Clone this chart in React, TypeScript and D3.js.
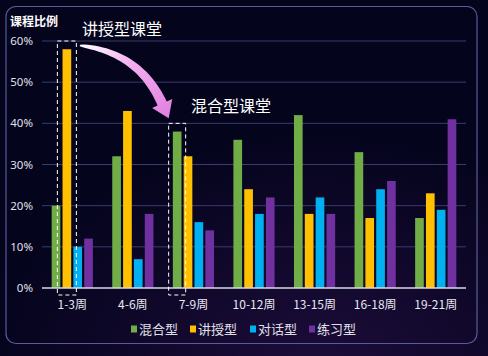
import { useMemo } from "react";
import * as d3 from "d3";

const WIDTH = 488;
const HEIGHT = 356;

const categories = ["1-3周", "4-6周", "7-9周", "10-12周", "13-15周", "16-18周", "19-21周"];
const seriesNames = ["混合型", "讲授型", "对话型", "练习型"];
const seriesColors = ["#70ad47", "#ffc000", "#00b0f0", "#7030a0"];
const mixed = [20, 32, 38, 36, 42, 33, 17];
const lecture = [58, 43, 32, 24, 18, 17, 23];
const dialog = [10, 7, 16, 18, 22, 24, 19];
const practice = [12, 18, 14, 22, 18, 26, 41];
const yTicks = [0, 10, 20, 30, 40, 50, 60];

const margin = { top: 41, right: 22, bottom: 68, left: 42 };

export default function App() {
  const series = [mixed, lecture, dialog, practice];

  const x = useMemo(
    () => d3.scaleBand().domain(categories).range([margin.left, WIDTH - margin.right]).paddingInner(0.32).paddingOuter(0.16),
    []
  );
  const inner = useMemo(
    () => d3.scaleBand().domain(seriesNames).range([0, x.bandwidth()]).paddingInner(0.2),
    [x]
  );
  const y = useMemo(
    () => d3.scaleLinear().domain([0, 60]).range([HEIGHT - margin.bottom, margin.top]),
    []
  );

  // highlight boxes
  const box1x = (x(categories[0]) ?? 0) + (inner(seriesNames[1]) ?? 0) + inner.bandwidth() / 2;
  const box2x = (x(categories[2]) ?? 0) + (inner(seriesNames[0]) ?? 0) + inner.bandwidth() / 2;

  // curved arrow from box 1 to box 2
  const p0: [number, number] = [box1x + 13, y(58.9)];
  const c: [number, number] = [box2x - 38, y(57.3)];
  const p1: [number, number] = [box2x - 15, y(44.8)];
  const dir = [p1[0] - c[0], p1[1] - c[1]];
  const len = Math.hypot(dir[0], dir[1]);
  const ux = dir[0] / len, uy = dir[1] / len;
  const nx = -uy, ny = ux;
  const N = 30;
  const left: [number, number][] = [];
  const right: [number, number][] = [];
  for (let i = 0; i <= N; i++) {
    const t = i / N;
    const bx = (1 - t) * (1 - t) * p0[0] + 2 * (1 - t) * t * c[0] + t * t * p1[0];
    const by = (1 - t) * (1 - t) * p0[1] + 2 * (1 - t) * t * c[1] + t * t * p1[1];
    const dx = 2 * (1 - t) * (c[0] - p0[0]) + 2 * t * (p1[0] - c[0]);
    const dy = 2 * (1 - t) * (c[1] - p0[1]) + 2 * t * (p1[1] - c[1]);
    const l = Math.hypot(dx, dy);
    const w = 0.8 + 4.2 * Math.sqrt(t);
    left.push([bx - (dy / l) * w, by + (dx / l) * w]);
    right.push([bx + (dy / l) * w, by - (dx / l) * w]);
  }
  const headW = 11;
  const tip: [number, number] = [p1[0] + ux * 16, p1[1] + uy * 16];
  const shape: [number, number][] = [
    ...left,
    [p1[0] + nx * headW, p1[1] + ny * headW],
    tip,
    [p1[0] - nx * headW, p1[1] - ny * headW],
    ...right.reverse(),
  ];
  const arrowPath = d3.line()(shape) + "Z";

  const legendItems = [131, 190, 250, 309];

  return (
    <svg width={WIDTH} height={HEIGHT} style={{ position: "absolute", left: 0, top: 0 }}>
      <defs>
        <radialGradient id="bg" cx="0.65" cy="1.05" r="0.7">
          <stop offset="0%" stopColor="#1d0c3a" />
          <stop offset="100%" stopColor="#04041c" />
        </radialGradient>
        <linearGradient id="arrowGrad" x1="0" y1="0" x2="1" y2="1">
          <stop offset="0%" stopColor="#ffffff" />
          <stop offset="40%" stopColor="#f4b0f0" />
          <stop offset="100%" stopColor="#e07ee0" />
        </linearGradient>
      </defs>
      <rect width={WIDTH} height={HEIGHT} fill="url(#bg)" />
      <rect x={6} y={6.5} width={471} height={337} rx={10} fill="none" stroke="#5a5c99" strokeWidth={1.2} />

      <text x={10} y={26} fill="#ffffff" fontSize={12} fontWeight="bold" fontFamily="Noto Sans CJK SC">
        课程比例
      </text>

      {yTicks.map((t) => (
        <g key={t}>
          {t > 0 && (
            <line x1={margin.left} x2={WIDTH - margin.right} y1={y(t)} y2={y(t)} stroke="#3b3b6e" strokeWidth={1} />
          )}
          <text x={33} y={y(t)} dy="0.35em" textAnchor="end" fill="#e0e0e8" fontSize={11.5} fontFamily="Noto Sans">
            {t}%
          </text>
        </g>
      ))}

      {categories.map((cat, ci) => (
        <g key={cat} transform={`translate(${x(cat)},0)`}>
          {series.map((s, si) => (
            <rect
              key={si}
              x={inner(seriesNames[si])}
              width={inner.bandwidth()}
              y={y(s[ci])}
              height={y(0) - y(s[ci])}
              fill={seriesColors[si]}
            />
          ))}
          <text
            x={x.bandwidth() / 2}
            y={y(0) + 17}
            dy="0.35em"
            textAnchor="middle"
            fill="#e8e8f0"
            fontSize={12}
            fontFamily="Noto Sans CJK SC"
          >
            {cat}
          </text>
        </g>
      ))}

      <line x1={margin.left} x2={WIDTH - margin.right} y1={y(0)} y2={y(0)} stroke="#d8d8e6" strokeWidth={1.5} />

      <rect x={box1x - 9.5} y={y(60)} width={19} height={y(0) - y(60) + 7} fill="none" stroke="#ffffff" strokeDasharray="4,3" strokeWidth={1} />
      <rect x={box2x - 8.5} y={y(40)} width={17} height={y(0) - y(40) + 7} fill="none" stroke="#ffffff" strokeDasharray="4,3" strokeWidth={1} />

      <path d={arrowPath} fill="url(#arrowGrad)" />

      <text x={82} y={35} fill="#ffffff" fontSize={16} fontFamily="Noto Sans CJK SC">
        讲授型课堂
      </text>
      <text x={191} y={112} fill="#ffffff" fontSize={16} fontFamily="Noto Sans CJK SC">
        混合型课堂
      </text>

      {seriesNames.map((name, i) => (
        <g key={name} transform={`translate(${legendItems[i]},329)`}>
          <rect x={0} y={-3.5} width={6} height={7} fill={seriesColors[i]} />
          <text x={8} y={0} dy="0.35em" fill="#e0e0ea" fontSize={13} fontFamily="Noto Sans CJK SC">
            {name}
          </text>
        </g>
      ))}
    </svg>
  );
}
